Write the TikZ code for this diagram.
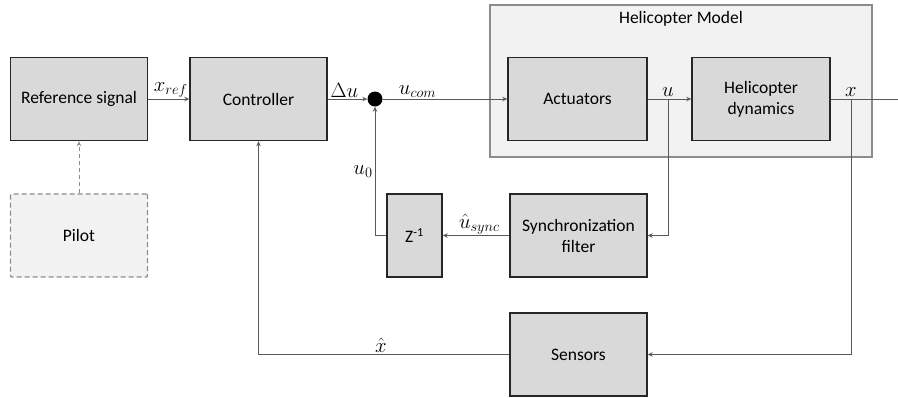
\documentclass[tikz,border=0pt]{standalone}
\usepackage{fontspec}
\setmainfont{Carlito}
\usetikzlibrary{arrows.meta}
\definecolor{boxfill}{HTML}{D9D9D9}
\definecolor{lightfill}{HTML}{F2F2F2}
\definecolor{boxline}{HTML}{262626}
\definecolor{wire}{HTML}{595959}
\definecolor{greyline}{HTML}{8C8C8C}
\begin{document}
\begin{tikzpicture}[x=1pt,y=-1pt,
  blk/.style={draw=boxline,fill=boxfill,line width=1.4pt,minimum width=137pt,minimum height=83pt,inner sep=0pt,align=center,font=\fontsize{17.5}{21}\selectfont},
  wire/.style={draw=wire,line width=0.9pt},
  arr/.style={wire,-{Stealth[length=5pt,width=4.5pt]}},
  lbl/.style={font=\fontsize{20}{22}\selectfont,inner sep=1pt}]
\useasboundingbox (0,0) rectangle (898,397);
% helicopter model container
\node[draw=greyline,fill=lightfill,line width=1.2pt,minimum width=382pt,minimum height=152pt,inner sep=0pt] (model) at (681,81) {};
\node[font=\fontsize{17.5}{20}\selectfont] (modeltitle) at (681,19) {Helicopter Model};
% blocks
\node[blk] (ref) at (79,99) {Reference signal};
\node[blk] (ctrl) at (258.5,99) {Controller};
\node[blk,minimum width=139pt] (act) at (577.5,99) {Actuators};
\node[blk,minimum width=138pt] (dyn) at (761,99) {Helicopter\\dynamics};
\node[blk] (sync) at (578.5,235.5) {Synchronization\\filter};
\node[blk,minimum width=55pt] (zinv) at (414.5,235.5) {Z\textsuperscript{-1}};
\node[blk,draw=greyline,fill=lightfill,dashed,dash pattern=on 5pt off 3pt,line width=1.2pt,rounded corners=1pt] (pilot) at (79,235.5) {Pilot};
\node[blk] (sens) at (578.5,354.5) {Sensors};
\node[circle,fill=black,minimum size=15pt,inner sep=0pt] (sum) at (375,99) {};
% coordinates
\coordinate (bu) at (668,99);
\coordinate (bx) at (851,99);
\coordinate (out) at (898,99);
% forward path
\draw[arr] (ref) -- node[lbl,above=0pt,pos=0.55] {$x_{ref}$} (ctrl);
\draw[arr] (ctrl) -- node[lbl,above=0pt,pos=0.42] {$\Delta u$} (sum);
\draw[arr] (sum) -- node[lbl,above=0pt,pos=0.28] {$u_{com}$} (act);
\draw[arr] (act) -- (dyn);
\node[lbl,above=1pt] (ulbl) at (bu) {$u$};
\draw[wire] (dyn) -- (out);
\node[lbl,above=1pt] (xlbl) at (bx) {$x$};
% synchronization loop
\draw[arr] (bu) |- (sync.east);
\draw[arr] (sync) -- node[lbl,above=0pt,pos=0.45] {$\hat{u}_{sync}$} (zinv);
\draw[arr] (zinv.west) -| node[lbl,left=1pt,pos=0.75] {$u_0$} (sum.south);
% sensor loop
\draw[arr] (bx) |- (sens.east);
\draw[arr] (sens.west) -| node[lbl,above=1pt,pos=0.256] {$\hat{x}$} (ctrl.south);
% pilot
\draw[arr,draw=greyline,dashed,dash pattern=on 4pt off 3pt] (pilot) -- (ref);
\end{tikzpicture}
\end{document}
